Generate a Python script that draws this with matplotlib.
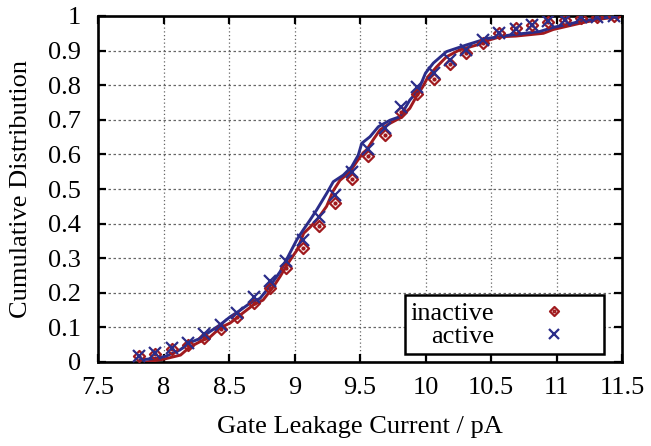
import numpy as np
import matplotlib
matplotlib.use("Agg")
import matplotlib.pyplot as plt
from matplotlib.path import Path

# ---- data ----
marker_x = [7.8125, 7.9375, 8.0625, 8.1875, 8.3125, 8.4375, 8.5625, 8.6875, 8.8125, 8.9375,
            9.0625, 9.1875, 9.3125, 9.4375, 9.5625, 9.6875, 9.8125, 9.9375, 10.0625, 10.1875,
            10.3125, 10.4375, 10.5625, 10.6875, 10.8125, 10.9375, 11.0625, 11.1875, 11.3125, 11.4375]
inactive_pts = [0.016, 0.022, 0.037, 0.050, 0.069, 0.096, 0.131, 0.170, 0.213, 0.271,
                0.330, 0.394, 0.460, 0.528, 0.596, 0.657, 0.722, 0.774, 0.819, 0.860,
                0.892, 0.921, 0.950, 0.964, 0.974, 0.984, 0.988, 0.995, 0.998, 1.000]
active_pts = [0.018, 0.025, 0.040, 0.056, 0.080, 0.107, 0.141, 0.189, 0.235, 0.292,
              0.352, 0.418, 0.483, 0.550, 0.616, 0.675, 0.738, 0.794, 0.836, 0.873,
              0.902, 0.932, 0.951, 0.963, 0.975, 0.986, 0.989, 0.996, 0.998, 1.000]

inactive_line_x = [7.87, 8.0, 8.13, 8.2, 8.28, 8.355, 8.43, 8.51, 8.58, 8.686, 8.76, 8.84, 8.89,
                   8.95, 9.02, 9.07, 9.12, 9.18, 9.245, 9.296, 9.347, 9.424, 9.475, 9.525, 9.55,
                   9.60, 9.653, 9.73, 9.805, 9.88, 9.93, 9.98, 10.02, 10.085, 10.16, 10.26, 10.39,
                   10.49, 10.57, 10.69, 10.9, 10.975, 11.18, 11.33, 11.46]
inactive_line_y = [0.0, 0.008, 0.02, 0.043, 0.059, 0.072, 0.098, 0.113, 0.134, 0.165, 0.179, 0.218,
                   0.247, 0.285, 0.324, 0.372, 0.39, 0.415, 0.45, 0.495, 0.525, 0.55, 0.579, 0.605,
                   0.613, 0.642, 0.671, 0.69, 0.705, 0.733, 0.767, 0.796, 0.825, 0.853, 0.882,
                   0.902, 0.916, 0.931, 0.94, 0.942, 0.95, 0.961, 0.979, 0.991, 0.997]

active_line_x = [7.82, 7.95, 8.02, 8.126, 8.2, 8.28, 8.355, 8.43, 8.51, 8.58, 8.66, 8.737, 8.81,
                 8.89, 8.95, 9.017, 9.067, 9.118, 9.17, 9.245, 9.296, 9.372, 9.436, 9.487, 9.513,
                 9.576, 9.64, 9.73, 9.805, 9.88, 9.945, 10.0, 10.06, 10.16, 10.31, 10.47, 10.645,
                 10.87, 10.975, 11.18, 11.33, 11.46]
active_line_y = [0.006, 0.011, 0.017, 0.035, 0.056, 0.068, 0.088, 0.107, 0.131, 0.148, 0.17,
                 0.184, 0.218, 0.261, 0.304, 0.353, 0.382, 0.410, 0.440, 0.487, 0.521, 0.54,
                 0.564, 0.598, 0.632, 0.651, 0.68, 0.699, 0.709, 0.757, 0.785, 0.835, 0.864,
                 0.897, 0.916, 0.935, 0.945, 0.955, 0.967, 0.984, 0.994, 0.998]

x_ticks = [7.5, 8, 8.5, 9, 9.5, 10, 10.5, 11, 11.5]
x_tick_labels = ["7.5", "8", "8.5", "9", "9.5", "10", "10.5", "11", "11.5"]
y_ticks = [0, 0.1, 0.2, 0.3, 0.4, 0.5, 0.6, 0.7, 0.8, 0.9, 1]
y_tick_labels = ["0", "0.1", "0.2", "0.3", "0.4", "0.5", "0.6", "0.7", "0.8", "0.9", "1"]

RED = "#a01a1e"
BLUE = "#2b2d8a"
FS = 19

plt.rcParams["font.family"] = ["Liberation Serif", "DejaVu Serif"]

fig = plt.figure(figsize=(6.51, 4.46), dpi=100)
ax = fig.add_axes([98/651, 1-362/446, 524/651, 346/446])

# diamond with center dot marker
diamond = Path([(0, 1), (1, 0), (0, -1), (-1, 0), (0, 1)],
               [Path.MOVETO, Path.LINETO, Path.LINETO, Path.LINETO, Path.CLOSEPOLY])
dot = Path.circle((0, 0), 0.18)
diamond_dot = Path.make_compound_path(diamond, dot)

ax.plot(inactive_line_x, inactive_line_y, color=RED, lw=2.1, zorder=3)
ax.plot(active_line_x, active_line_y, color=BLUE, lw=2.1, zorder=3)
h1, = ax.plot(marker_x, inactive_pts, linestyle="none", marker=diamond_dot, markersize=8,
              markerfacecolor="none", markeredgecolor=RED, markeredgewidth=1.6, zorder=4,
              label="inactive")
h2, = ax.plot(marker_x, active_pts, linestyle="none", marker="x", markersize=8,
              markeredgecolor=BLUE, markeredgewidth=1.6, zorder=4, label="active")

ax.set_xlim(7.5, 11.5)
ax.set_ylim(0, 1)
ax.set_xticks(x_ticks)
ax.set_xticklabels(x_tick_labels)
ax.set_yticks(y_ticks)
ax.set_yticklabels(y_tick_labels)

ax.tick_params(axis="both", direction="in", length=6, width=1.6, labelsize=FS,
               top=True, right=True, colors="black")
ax.tick_params(axis="y", pad=12)
ax.tick_params(axis="x", pad=11)
for s in ax.spines.values():
    s.set_linewidth(1.9)

ax.grid(True, axis="y", color="#666666", linestyle=(0, (2, 2)), linewidth=0.9)
ax.grid(True, axis="x", color="#666666", linestyle=(0, (1, 2)), linewidth=0.9)
ax.set_axisbelow(True)

ax.set_xlabel("Gate Leakage Current / pA", fontsize=FS, labelpad=12)
ax.set_ylabel("Cumulative Distribution", fontsize=FS, labelpad=12)

leg = ax.legend(handles=[h1, h2], loc="lower right", bbox_to_anchor=(0.966, 0.023),
                markerfirst=False, fontsize=FS, frameon=True, fancybox=False,
                handlelength=3.4, handletextpad=0.55, borderpad=0.22, labelspacing=0.0,
                borderaxespad=0)
leg.get_frame().set_edgecolor("black")
leg.get_frame().set_linewidth(1.8)
leg.get_frame().set_alpha(1)
for lh in leg.legend_handles:
    lh.set_markersize(6.5)

fig.savefig("out.png", dpi=100)
